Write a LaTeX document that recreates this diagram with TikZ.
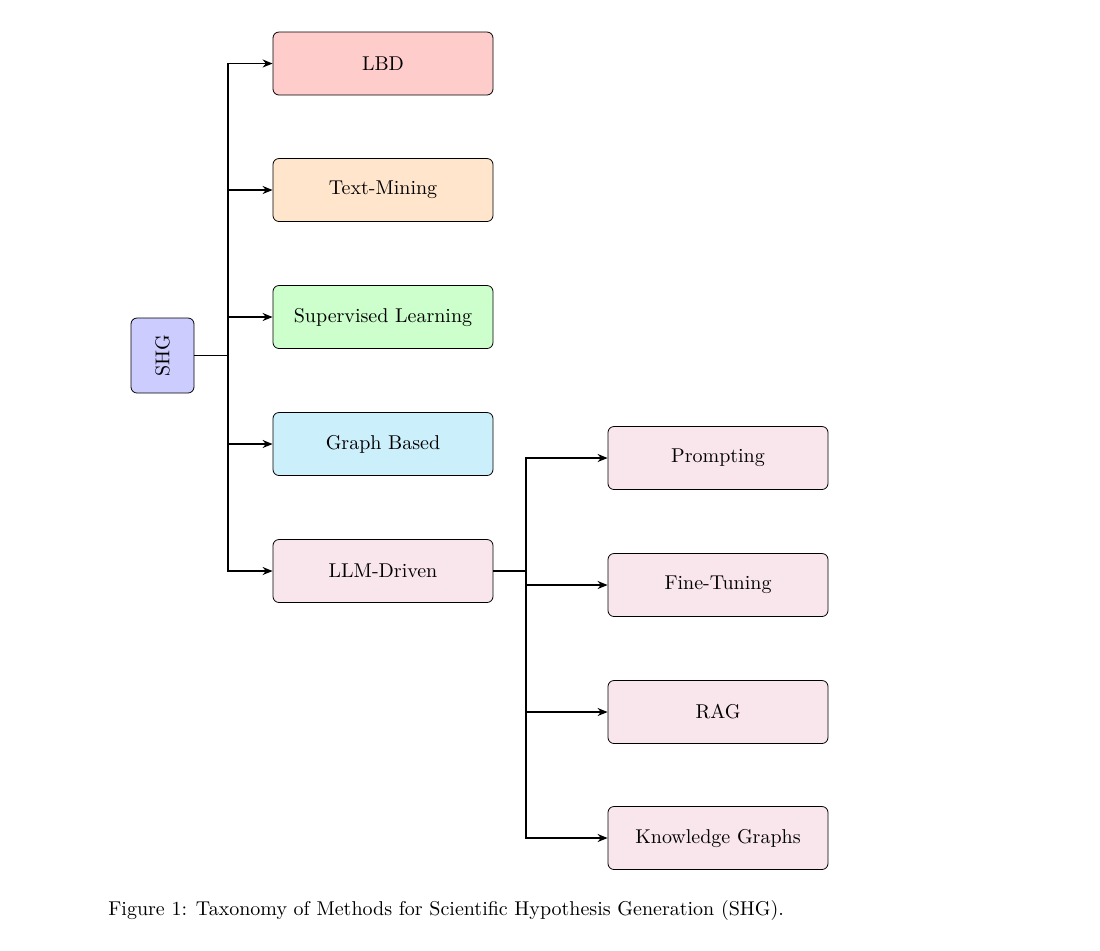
\documentclass[tikz,border=0pt]{standalone}
\usetikzlibrary{arrows.meta}
\begin{document}
\begin{tikzpicture}[x=0.5pt,y=-0.5pt,
 box/.style={draw,rounded corners=3pt,minimum width=110pt,minimum height=31.5pt,inner sep=1pt},
 conn/.style={draw,line width=0.7pt,-{Stealth[length=5pt,width=4pt]}}]
\useasboundingbox (0,0) rectangle (1100,950);
\node[draw,rounded corners=3pt,fill=blue!20,minimum width=31.5pt,minimum height=37.5pt] (shg) at (162.5,355.5) {\rotatebox{90}{SHG}};
\node[box,fill=red!20] (lbd) at (383,63.5) {LBD};
\node[box,fill=orange!20] (tm) at (383,190) {Text-Mining};
\node[box,fill=green!20] (sl) at (383,317) {Supervised Learning};
\node[box,fill=cyan!20] (gb) at (383,444) {Graph Based};
\node[box,fill=purple!10] (llm) at (383,571) {LLM-Driven};
\node[box,fill=purple!10] (pr) at (718,458) {Prompting};
\node[box,fill=purple!10] (ft) at (718,585) {Fine-Tuning};
\node[box,fill=purple!10] (rag) at (718,712) {RAG};
\node[box,fill=purple!10] (kg) at (718,838) {Knowledge Graphs};
\coordinate (j1) at (228,355.5);
\coordinate (j2) at (526,571);
\draw[line width=0.7pt] (shg.east) -- (j1);
\foreach \t in {lbd,tm,sl,gb,llm} \draw[conn] (j1) |- (\t.west);
\draw[line width=0.7pt] (llm.east) -- (j2);
\foreach \t in {pr,ft,rag,kg} \draw[conn] (j2) |- (\t.west);
\node[anchor=west,inner sep=0] (cap) at (108,910) {Figure 1: Taxonomy of Methods for Scientific Hypothesis Generation (SHG).};
\end{tikzpicture}
\end{document}
